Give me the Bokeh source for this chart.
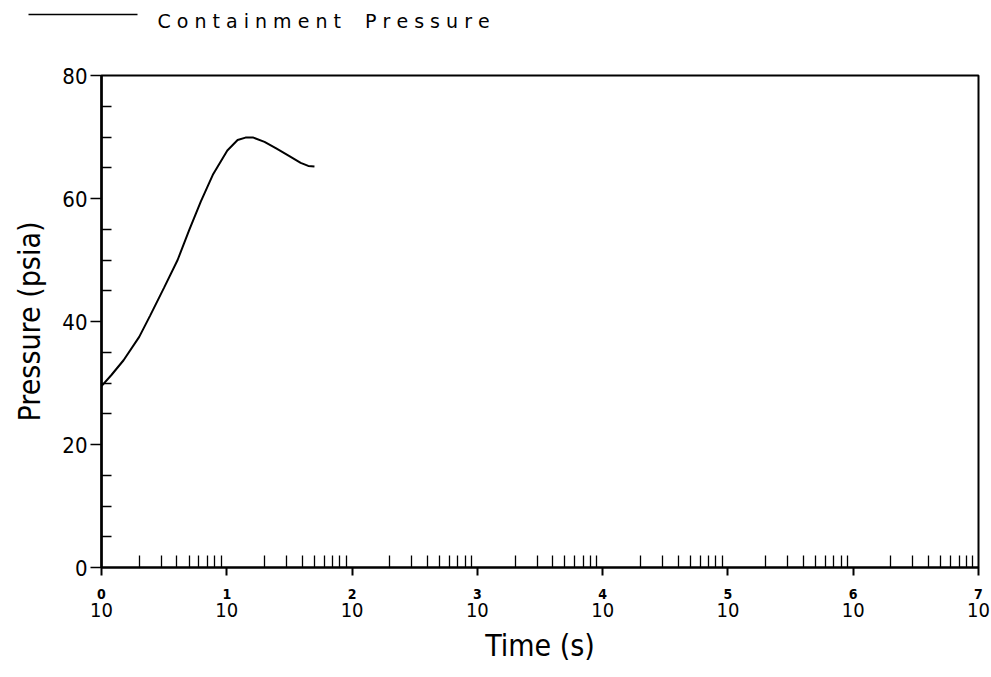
from bokeh.plotting import figure
from bokeh.models import FixedTicker, LogAxis, Range1d
from bokeh.layouts import column
from bokeh.embed import file_html
from bokeh.resources import INLINE

# ---- data ----
time_s = [1.0, 1.2, 1.5, 2.0, 2.45, 3.16, 4.05, 5.0, 6.2, 7.8, 10.1, 12.2,
          14.1, 16.3, 20.0, 25.0, 31.6, 38.9, 44.7, 50.1]
pressure_psia = [29.5, 31.3, 33.7, 37.5, 41.0, 45.5, 50.0, 54.8, 59.5, 64.0,
                 67.8, 69.5, 69.9, 69.9, 69.2, 68.1, 66.9, 65.8, 65.3, 65.2]

x_major = [1, 10, 100, 1000, 10000, 100000, 1000000, 10000000]
x_exponents = ["0", "1", "2", "3", "4", "5", "6", "7"]
x_minor = [m * d for d in x_major[:-1] for m in range(2, 10)]
y_major = [0, 20, 40, 60, 80]
y_minor = [5, 10, 15, 25, 30, 35, 45, 50, 55, 65, 70, 75]

series_label = "C o n t a i n m e n t\u00a0\u00a0\u00a0\u00a0P r e s s u r e"
x_title = "Time (s)"
y_title = "Pressure (psia)"

FONT = "DejaVu Sans Condensed"

# ---- legend strip (pixel-like coordinates) ----
leg = figure(width=991, height=40, x_range=Range1d(0, 991), y_range=Range1d(40, 0),
             x_axis_location=None, y_axis_location=None,
             min_border=0, output_backend="svg", toolbar_location=None)
if "frame_align" in leg.properties():
    leg.frame_align = False
leg.title.visible = False
leg.grid.visible = False
leg.outline_line_color = None
leg.line([28, 137], [14, 14], line_color="black", line_width=1.5)
leg.text(x=[157], y=[20], text=[series_label], text_baseline="middle",
         text_align="left", text_font={"value": "DejaVu Sans"},
         text_font_size="19px", text_color="black")

# ---- main plot ----
p = figure(width=991, height=637, x_axis_type="log",
           x_range=(1, 1e7), y_range=(0, 80),
           min_border_left=101, min_border_right=13,
           min_border_top=35, min_border_bottom=110,
           output_backend="svg", toolbar_location=None)
if "frame_align" in p.properties():
    p.frame_align = False
p.title.visible = False

p.grid.visible = False
p.outline_line_color = "black"
p.outline_line_width = 2
p.background_fill_color = "white"
p.border_fill_color = "white"

# x axis (ticks + exponent labels)
xa = p.xaxis[0]
xa.ticker = FixedTicker(ticks=x_major, minor_ticks=x_minor)
xa.major_tick_in = 0
xa.major_tick_out = 8
xa.minor_tick_in = 12
xa.minor_tick_out = 0
xa.major_tick_line_width = 2
xa.minor_tick_line_width = 1.3
xa.axis_line_width = 2
xa.major_label_overrides = {t: e for t, e in zip(x_major, x_exponents)}
xa.major_label_text_font = FONT
xa.major_label_text_font_size = "14px"
xa.major_label_text_font_style = "bold"
xa.major_label_text_color = "black"
xa.major_label_standoff = 13

# second x axis: the "10" base labels and the title
xb = LogAxis(ticker=FixedTicker(ticks=x_major, minor_ticks=[]))
xb.axis_line_color = None
xb.major_tick_line_color = None
xb.minor_tick_line_color = None
xb.major_tick_in = 0
xb.major_tick_out = 0
xb.major_label_overrides = {t: "10" for t in x_major}
xb.major_label_text_font = FONT
xb.major_label_text_font_size = "20px"
xb.major_label_text_color = "black"
xb.major_label_standoff = 1
xb.axis_label = x_title
xb.axis_label_text_font = FONT
xb.axis_label_text_font_size = "30px"
xb.axis_label_text_font_style = "normal"
xb.axis_label_text_color = "black"
xb.axis_label_standoff = 8
p.add_layout(xb, "below")

# y axis
ya = p.yaxis[0]
ya.ticker = FixedTicker(ticks=y_major, minor_ticks=y_minor)
ya.major_tick_in = 0
ya.major_tick_out = 11
ya.minor_tick_in = 10
ya.minor_tick_out = 0
ya.major_tick_line_width = 1.5
ya.minor_tick_line_width = 1.3
ya.axis_line_width = 2.5
ya.major_label_text_font = FONT
ya.major_label_text_font_size = "22px"
ya.major_label_text_color = "black"
ya.major_label_standoff = 3
ya.axis_label = y_title
ya.axis_label_text_font = FONT
ya.axis_label_text_font_size = "30px"
ya.axis_label_text_font_style = "normal"
ya.axis_label_text_color = "black"
ya.axis_label_standoff = 12

# curve
p.line(time_s, pressure_psia, line_color="black", line_width=2)

layout = column(leg, p, spacing=0)
open("out.html", "w").write(file_html(layout, INLINE))
